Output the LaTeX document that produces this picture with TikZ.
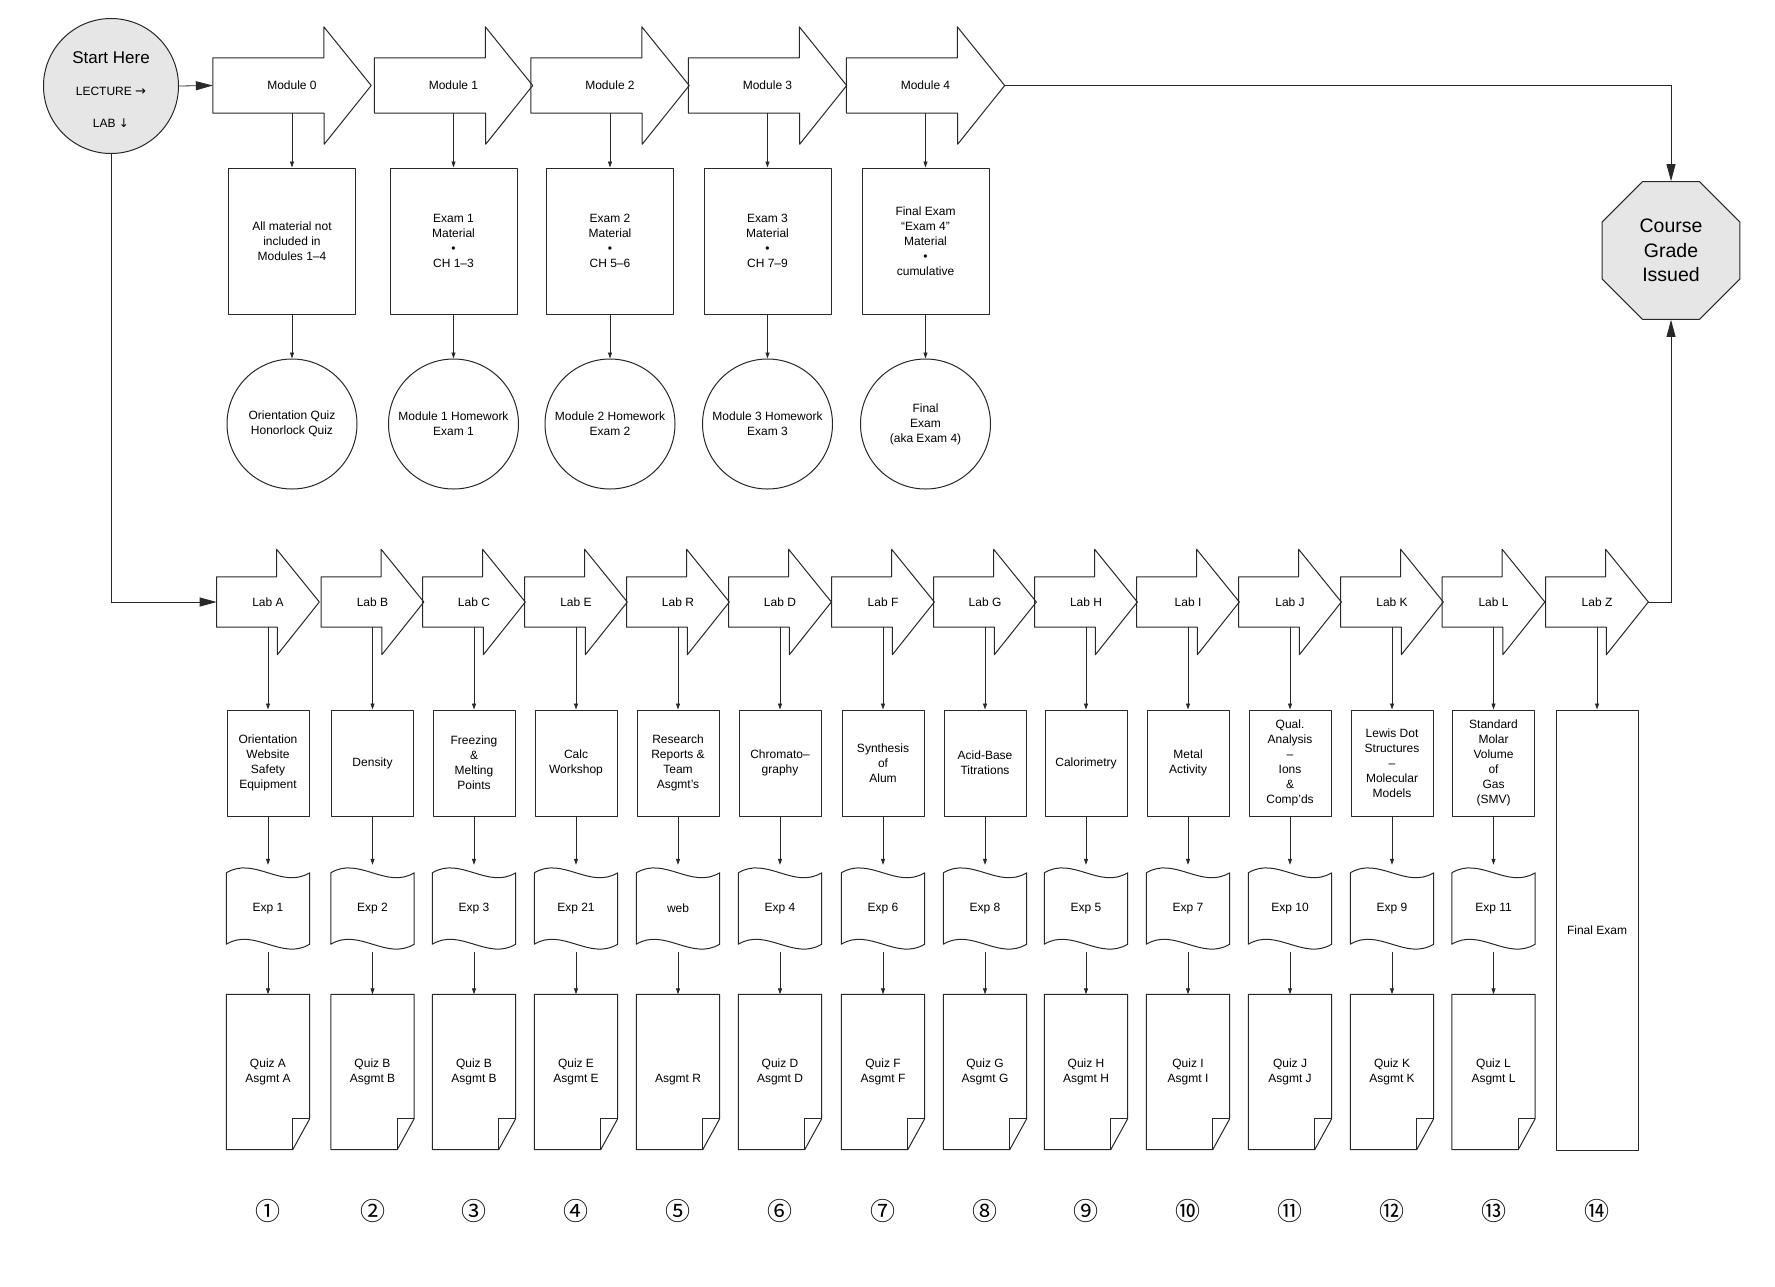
\documentclass[tikz,border=0pt]{standalone}
\usepackage{fontspec}
\setmainfont{Liberation Sans}
\newfontfamily\cjk{Noto Sans CJK SC}
\newfontfamily\arrowglyph{DejaVu Sans}
\usetikzlibrary{arrows.meta,positioning,calc,shapes.geometric}
\definecolor{shadegray}{RGB}{230,230,230}
\definecolor{linegray}{RGB}{40,40,40}

\begin{document}
\begin{tikzpicture}[x=1pt, y=-1pt,
  every node/.style={font=\fontsize{12}{15}\selectfont, align=center, inner sep=0pt},
  outline/.style={draw=linegray, line width=1pt, line join=round},
  arr/.style={-{Triangle[length=6pt,width=4pt]}, draw=linegray, line width=0.8pt},
  bigarr/.style={-{Triangle[length=17pt,width=9pt]}, draw=linegray, line width=0.8pt},
  startnode/.style={outline, circle, fill=shadegray, minimum size=135pt},
  gradenode/.style={outline, regular polygon, regular polygon sides=8, fill=shadegray,
    minimum size=149pt, font=\fontsize{19.5}{24.5}\selectfont},
  modbody/.style={minimum width=158pt, minimum height=55pt},
  labbody/.style={minimum width=102.3pt, minimum height=50pt},
  matbox/.style={outline, rectangle, minimum width=127pt, minimum height=146pt},
  hwcircle/.style={outline, circle, minimum size=130pt},
  labbox/.style={outline, rectangle, minimum width=82pt, minimum height=106pt},
  expbody/.style={minimum width=83pt, minimum height=71pt},
  quizbody/.style={minimum width=83pt, minimum height=155pt},
  numlabel/.style={font=\cjk\fontsize{25}{25}\selectfont}
]
\useasboundingbox (0,0) rectangle (1775,1286);

% start and end
\node[startnode] (start) at (111,86) {\rule{0pt}{19pt}{\fontsize{17}{20}\selectfont Start Here}\\[17pt]LECTURE {\arrowglyph\fontsize{13}{15}\selectfont →}\\[17pt]LAB {\arrowglyph ↓}};
\node[gradenode] (grade) at (1671,250.5) {Course\\Grade\\Issued};

% lecture row
\foreach \x/\mat/\hw [count=\i from 0] in {
  292/{All material not\\included in\\Modules 1–4}/{Orientation Quiz\\Honorlock Quiz},
  453.5/{Exam 1\\Material\\•\\CH 1–3}/{Module 1 Homework\\Exam 1},
  610/{Exam 2\\Material\\•\\CH 5–6}/{Module 2 Homework\\Exam 2},
  767.5/{Exam 3\\Material\\•\\CH 7–9}/{Module 3 Homework\\Exam 3},
  925.5/{Final Exam\\“Exam 4”\\Material\\•\\cumulative}/{Final\\Exam\\(aka Exam 4)}} {
  \node[modbody] (mod\i) at (\x,85.5) {Module \i};
  \draw[outline] (mod\i.south west) -- (mod\i.north west) -- ++(111,0) -- ++(0,-31)
    -- (mod\i.east) -- ($(mod\i.south east)+(-47,31)$) -- ++(0,-31) -- cycle;
  \node[matbox] (mat\i) at (\x,241) {\mat};
  \node[hwcircle] (hw\i) at (\x,424) {\hw};
  \draw[arr] (mod\i.south) -- (mat\i.north);
  \draw[arr] (mat\i.south) -- (hw\i.north);
}

% lab row
\foreach \x/\lab [count=\i] in {268/A,372.5/B,474/C,576/E,678/R,780/D,883/F,985/G,
    1086/H,1188/I,1290/J,1392/K,1493.5/L,1597/Z} {
  \node[labbody] (lab\i) at (\x,602) {Lab \lab};
  \draw[outline] (lab\i.south west) -- (lab\i.north west) -- ++(60,0) -- ++(0,-27.5)
    -- (lab\i.east) -- ($(lab\i.south east)+(-42,27.5)$) -- ++(0,-27.5) -- cycle;
}
\foreach \n [count=\i] in {①,②,③,④,⑤,⑥,⑦,⑧,⑨,⑩,⑪,⑫,⑬,⑭} {
  \node[numlabel] (num\i) at (lab\i |- 0,1211) {\n};
}

\foreach \desc/\exper/\quiz [count=\i] in {
  {Orientation\\Website\\Safety\\Equipment}/{Exp 1}/{Quiz A\\Asgmt A},
  {Density}/{Exp 2}/{Quiz B\\Asgmt B},
  {Freezing\\\&\\Melting\\Points}/{Exp 3}/{Quiz B\\Asgmt B},
  {Calc\\Workshop}/{Exp 21}/{Quiz E\\Asgmt E},
  {Research\\Reports \&\\Team\\Asgmt's}/{web}/{\phantom{Quiz R}\\Asgmt R},
  {Chromato–\\graphy}/{Exp 4}/{Quiz D\\Asgmt D},
  {Synthesis\\of\\Alum}/{Exp 6}/{Quiz F\\Asgmt F},
  {Acid-Base\\Titrations}/{Exp 8}/{Quiz G\\Asgmt G},
  {Calorimetry}/{Exp 5}/{Quiz H\\Asgmt H},
  {Metal\\Activity}/{Exp 7}/{Quiz I\\Asgmt I},
  {Qual.\\Analysis\\–\\Ions\\\&\\Comp'ds}/{Exp 10}/{Quiz J\\Asgmt J},
  {Lewis Dot\\Structures\\–\\Molecular\\Models}/{Exp 9}/{Quiz K\\Asgmt K},
  {Standard\\Molar\\Volume\\of\\Gas\\(SMV)}/{Exp 11}/{Quiz L\\Asgmt L}} {
  \node[labbox] (desc\i) at (lab\i |- 0,763) {\desc};
  \node[expbody] (exp\i) at (lab\i |- 0,908.5) {\exper};
  \node[quizbody] (quiz\i) at (lab\i |- 0,1072) {\quiz};
  % wavy tape
  \draw[outline] (exp\i.north west) .. controls +(28,-17) and +(-28,17) .. (exp\i.north east)
    -- (exp\i.south east) .. controls +(-28,17) and +(28,-17) .. (exp\i.south west) -- cycle;
  % page with folded corner
  \draw[outline] (quiz\i.north west) -- (quiz\i.north east) -- ($(quiz\i.south east)+(0,-31)$)
    -- ($(quiz\i.south east)+(-17,0)$) -- (quiz\i.south west) -- cycle;
  \draw[outline] ($(quiz\i.south east)+(-17,0)$) -- ++(0,-31) -- ++(17,0);
  \draw[arr] (lab\i.south) -- (desc\i.north);
  \draw[arr, shorten >=8pt] (desc\i.south) -- (exp\i.north);
  \draw[arr, shorten <=8pt] (exp\i.south) -- (quiz\i.north);
}

\node[outline, minimum width=82pt, minimum height=440pt] (finbox) at (lab14 |- 0,930) {Final Exam};
\draw[arr] (lab14.south) -- (finbox.north);

% connectors
\draw[bigarr] (start.east) -- (mod0.west);
\draw[bigarr] (start.south) |- (lab1.west);
\draw[bigarr] (mod4.east) -| (grade.north);
\draw[bigarr] (lab14.east) -| (grade.south);
\end{tikzpicture}
\end{document}
